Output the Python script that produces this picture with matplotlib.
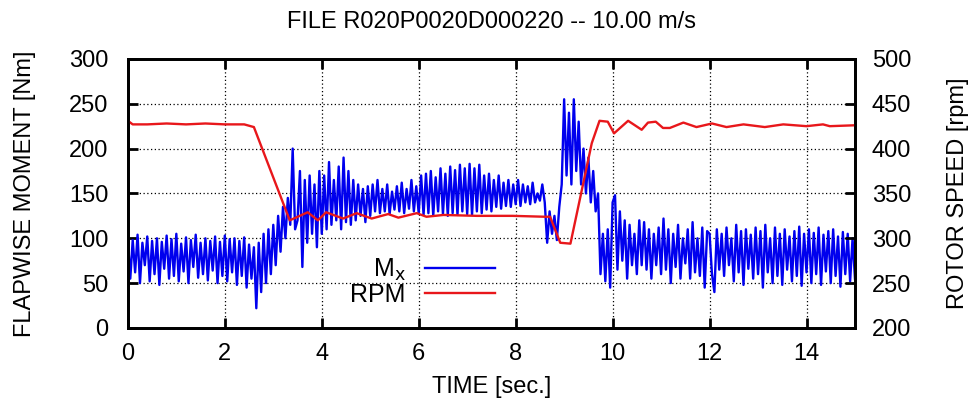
import numpy as np
import matplotlib
matplotlib.use('Agg')
import matplotlib.pyplot as plt

plt.rcParams['font.family'] = ['Liberation Sans', 'DejaVu Sans']

mx_values = [
    100, 55, 98, 62, 104, 50, 95, 70, 102, 52, 97, 60, 100, 48, 96, 66, 103, 55, 99, 58,
    105, 52, 94, 63, 101, 50, 98, 68, 104, 56, 95, 60, 100, 53, 97, 64, 102, 50, 96, 58,
    103, 52, 99, 62, 100, 48, 97, 58, 101, 45, 93, 55,
    90, 22, 95, 40, 105, 50, 110, 60,
    115, 70, 125, 85, 135, 100, 145, 115, 200, 110,
    120, 175, 68, 165, 95, 170, 105, 160, 90, 175,
    105, 170, 110, 185, 115, 165, 120, 180, 110, 190, 118, 175, 115, 165, 120, 160, 125, 155, 118, 158,
    125, 160, 130, 165, 128, 155, 130, 160, 127, 152, 132, 158, 130, 162, 128, 155, 133, 165, 130, 158,
    128, 170, 126, 172, 128, 175, 125, 168, 130, 178, 127, 172, 125, 180, 128, 176, 126, 182, 130, 178,
    127, 183, 126, 178, 130, 182, 128, 170, 132, 172, 130, 165, 135, 170, 133, 162, 136, 165, 135, 160,
    138, 165, 136, 160, 140, 158, 138, 162, 140, 150, 142, 160, 140,
    95, 130, 105, 125, 98, 135,
    160, 255, 170, 240, 160, 255, 175, 230, 160, 200, 150, 190, 140, 175, 130, 150,
    60, 105, 52, 110, 45,
    140, 148, 65, 130, 75, 120, 55, 115, 70, 105, 60, 120, 70, 118, 65, 110, 55, 105, 70, 112,
    60, 122, 65, 110, 50, 105, 68, 115, 55, 100, 72, 110, 55, 118, 62, 100, 58, 112, 45, 108,
    105, 60, 40, 110, 65, 105, 58, 112, 70, 100, 52, 115, 62, 108, 48, 110, 66, 104, 55, 112,
    60, 108, 45, 115, 62, 100, 50, 112, 58, 105, 48, 110, 65, 102, 52, 108, 58, 113, 47, 105,
    62, 110, 50, 106, 60, 112, 48, 104, 63, 108, 50, 110, 58, 102, 46, 107, 60, 105, 52, 100, 55,
]
mx_dt = 0.05

# Rotor speed (time, rpm)
rpm_time = [0.0, 0.1, 0.4, 0.8, 1.2, 1.6, 2.0, 2.4, 2.6, 3.34, 3.71, 3.92, 4.09, 4.44,
            4.72, 5.03, 5.37, 5.58, 5.96, 6.16, 6.51, 7.2, 7.94, 8.6, 8.71, 8.92, 9.13,
            9.57, 9.73, 9.9, 10.03, 10.32, 10.6, 10.73, 10.89, 11.04, 11.18, 11.46, 11.73,
            12.05, 12.35, 12.7, 13.14, 13.52, 14.0, 14.34, 14.48, 15.0]
rpm_values = [431, 427, 427, 428, 427, 428, 427, 427, 424, 320, 329, 320, 329, 322,
              328, 322, 327, 323, 328, 324, 326, 325, 325, 324, 324, 295, 294,
              406, 431, 430, 417, 431, 421, 429, 430, 423, 423, 429, 424,
              428, 424, 427, 424, 427, 425, 427, 425, 426]

x_ticks = [0, 2, 4, 6, 8, 10, 12, 14]
left_ticks = [0, 50, 100, 150, 200, 250, 300]
right_ticks = [200, 250, 300, 350, 400, 450, 500]

fs = 17

fig = plt.figure(figsize=(9.76, 4.12), dpi=100)
ax = fig.add_axes([0.131, 0.204, 0.745, 0.653])
ax2 = ax.twinx()

t = np.arange(len(mx_values)) * mx_dt
l1, = ax.plot(t, mx_values, color='#0000ee', lw=1.7)
l2, = ax2.plot(rpm_time, rpm_values, color='#e8171b', lw=1.7)

ax.set_xlim(0, 15)
ax.set_ylim(0, 300)
ax2.set_ylim(200, 500)
ax.set_xticks(x_ticks)
ax.set_yticks(left_ticks)
ax2.set_yticks(right_ticks)

ax.grid(True, color='black', linestyle=(0, (1, 2)), lw=0.9)
ax.tick_params(direction='in', length=7, width=2, labelsize=fs)
ax.tick_params(axis='y', pad=14)
ax.tick_params(axis='x', top=True, labeltop=False, pad=11)
ax2.tick_params(direction='in', length=7, width=2, labelsize=fs, pad=12)
for a in (ax, ax2):
    for s in a.spines.values():
        s.set_linewidth(2)

ax.set_xlabel('TIME [sec.]', fontsize=fs, labelpad=8)
ax.set_ylabel('FLAPWISE MOMENT [Nm]', fontsize=fs, labelpad=24)
ax2.set_ylabel('ROTOR SPEED [rpm]', fontsize=fs, labelpad=26)
ax.set_title('FILE R020P0020D000220 -- 10.00 m/s', fontsize=fs, pad=22)

ax2.legend([l1, l2], ['M$_\\mathrm{x}$', 'RPM'], loc='lower right',
           bbox_to_anchor=(0.518, 0.04), frameon=False, markerfirst=False,
           fontsize=18, handlelength=2.8, handletextpad=0.75, labelspacing=0.0,
           borderaxespad=0.0)

fig.savefig('out.png', dpi=100)
